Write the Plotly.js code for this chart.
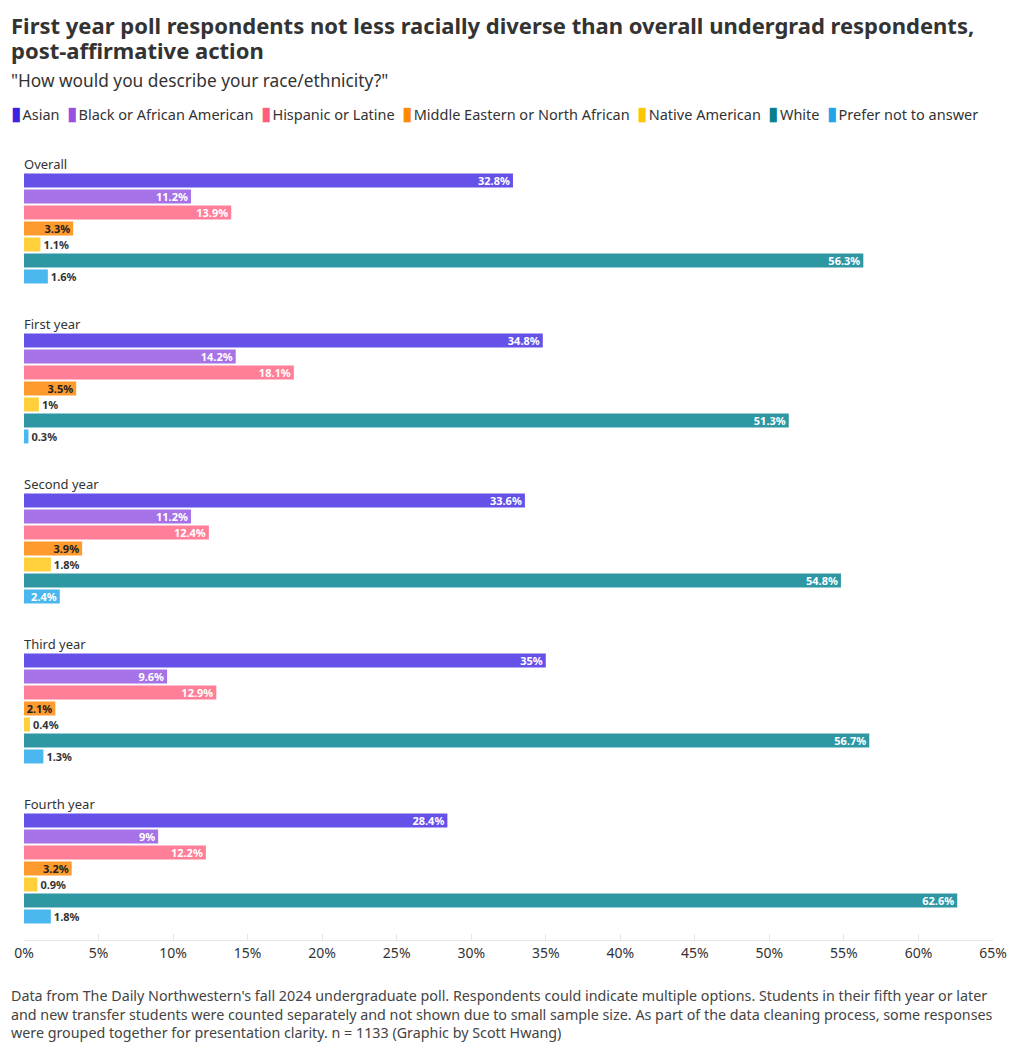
<!DOCTYPE html>
<html>
<head>
<meta charset="utf-8">
<script src="https://cdn.plot.ly/plotly-3.0.1.min.js"></script>
<style>html,body{margin:0;padding:0;background:#fff;}#chart{width:1020px;height:1052px;}</style>
</head>
<body>
<div id="chart"></div>
<script>
const groups = ["Overall", "First year", "Second year", "Third year", "Fourth year"];
const seriesNames = ["Asian", "Black or African American", "Hispanic or Latine", "Middle Eastern or North African", "Native American", "White", "Prefer not to answer"];
const asian    = [32.8, 34.8, 33.6, 35, 28.4];
const black    = [11.2, 14.2, 11.2, 9.6, 9];
const hispanic = [13.9, 18.1, 12.4, 12.9, 12.2];
const mena     = [3.3, 3.5, 3.9, 2.1, 3.2];
const native   = [1.1, 1, 1.8, 0.4, 0.9];
const white    = [56.3, 51.3, 54.8, 56.7, 62.6];
const prefer   = [1.6, 0.3, 2.4, 1.3, 1.8];
const xTicks = [0, 5, 10, 15, 20, 25, 30, 35, 40, 45, 50, 55, 60, 65];
const titleLines = ["First year poll respondents not less racially diverse than overall undergrad respondents,", "post-affirmative action"];

const seriesValues = [asian, black, hispanic, mena, native, white, prefer];
const barColors = ["#6651e8", "#a672e8", "#ff7f99", "#ff9a2e", "#ffd03a", "#2e97a3", "#4ab7ef"];
const legendColors = ["#3b22e0", "#9a4fe0", "#ff5e7f", "#ff8a00", "#ffc500", "#0a7f8c", "#1ea5ea"];
const insideColors = ["#ffffff", "#ffffff", "#ffffff", "#222222", "#222222", "#ffffff", "#ffffff"];

const FONT = "Noto Sans, Open Sans, sans-serif";

const traces = seriesNames.map((name, i) => ({
  type: "bar",
  orientation: "h",
  name: name,
  y: groups,
  x: seriesValues[i],
  marker: { color: barColors[i] },
  text: seriesValues[i].map(v => v + "%"),
  textposition: seriesValues[i].map(v => (v >= 2 ? "inside" : "outside")),
  insidetextanchor: "end",
  constraintext: "none",
  insidetextfont: { color: insideColors[i], size: 11, family: FONT, weight: 700 },
  outsidetextfont: { color: "#333333", size: 11, family: FONT, weight: 700 },
  cliponaxis: false,
  showlegend: false,
  hoverinfo: "x+name"
}));

const legendText = seriesNames.map((n, i) =>
  '<span style="color:' + legendColors[i] + ';font-size:19px">▮</span>\u200a' + n
).join("\u00a0\u00a0");

const annotations = groups.map((g, i) => ({
  xref: "x", yref: "y", x: 0, y: i, yshift: 64.5, xshift: -2,
  xanchor: "left", yanchor: "middle", showarrow: false,
  text: g, font: { family: FONT, size: 13, color: "#333333" }
}));

const padX = (11 - 24) / 969;
const pyOf = px => 1 + (148 - px) / 792;
titleLines.forEach((t, k) => {
  annotations.push({
    xref: "paper", yref: "paper", x: padX, xshift: -2, y: pyOf(25 + 25 * k),
    xanchor: "left", yanchor: "middle", align: "left", showarrow: false,
    text: "<b>" + t + "</b>",
    font: { family: FONT, size: 22, color: "#333333" }
  });
});
annotations.push({
  xref: "paper", yref: "paper", x: padX, xshift: -2, y: pyOf(80),
  xanchor: "left", yanchor: "middle", showarrow: false,
  text: '"How would you describe your race/ethnicity?"',
  font: { family: FONT, size: 17.3, color: "#333333" }
});
annotations.push({
  xref: "paper", yref: "paper", x: padX, xshift: -2, y: pyOf(113),
  xanchor: "left", yanchor: "middle", showarrow: false,
  text: legendText,
  font: { family: FONT, size: 14.5, color: "#333333" }
});
annotations.push({
  xref: "paper", yref: "paper", x: padX, xshift: -2, y: -(984 - 940) / 792,
  xanchor: "left", yanchor: "top", align: "left", showarrow: false,
  text: "Data from The Daily Northwestern's fall 2024 undergraduate poll. Respondents could indicate multiple options. Students in their fifth year or later<br>and new transfer students were counted separately and not shown due to small sample size. As part of the data cleaning process, some responses<br>were grouped together for presentation clarity. n = 1133 (Graphic by Scott Hwang)",
  font: { family: FONT, size: 14.3, color: "#444444" }
});

const layout = {
  width: 1020, height: 1052,
  margin: { l: 24, r: 27, t: 148, b: 112 },
  paper_bgcolor: "#ffffff", plot_bgcolor: "#ffffff",
  font: { family: FONT, color: "#333333" },
  barmode: "group",
  bargap: 0.3,
  bargroupgap: 0.125,
  showlegend: false,
  xaxis: {
    range: [0, 65],
    tickvals: xTicks,
    ticktext: xTicks.map(t => t + "%"),
    showgrid: false, zeroline: false,
    showline: true, linecolor: "#e6e6e6", linewidth: 1,
    ticks: "inside", ticklen: 6, tickcolor: "#e6e6e6",
    tickfont: { family: FONT, size: 14, color: "#333333" },
    fixedrange: true
  },
  yaxis: {
    type: "category",
    categoryorder: "array", categoryarray: groups,
    range: [4.447, -0.503],
    showticklabels: false, showgrid: false, zeroline: false, showline: false,
    ticks: "", fixedrange: true
  },
  annotations: annotations
};

Plotly.newPlot("chart", traces, layout, { displayModeBar: false, staticPlot: true });
</script>
</body>
</html>
